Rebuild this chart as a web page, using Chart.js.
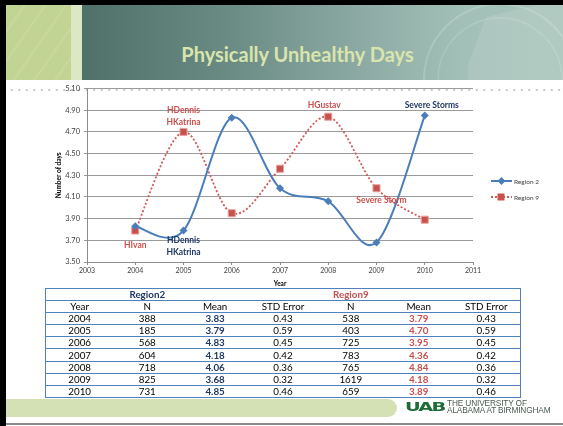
<!DOCTYPE html>
<html>
<head>
<meta charset="utf-8">
<script src="https://cdn.jsdelivr.net/npm/chart.js@4.4.0/dist/chart.umd.min.js"></script>
<style>
  html, body { margin: 0; padding: 0; }
  body { width: 563px; height: 426px; position: relative; overflow: hidden; background: #fff; font-family: Lato, "Liberation Sans", sans-serif; }
  .frame-top { position: absolute; left: 0; top: 0; width: 563px; height: 5px; background: #000; }
  .frame-left { position: absolute; left: 0; top: 0; width: 6px; height: 426px; background: #000; }
  .banner { position: absolute; left: 6px; top: 5px; width: 557px; height: 75px; overflow: hidden;
    background: linear-gradient(to right, #4a6b64 0%, #4f716a 14%, #6a8b84 40%, #8eaca5 65%, #a3c0b8 82%, #a8c5bc 100%); }
  .banner .leaf { position: absolute; left: 0; top: 0; width: 65px; height: 75px; background: #c2d494;
    background-image: repeating-linear-gradient(125deg, rgba(255,255,255,0) 0px, rgba(255,255,255,0) 14px, rgba(255,255,255,0.12) 15px, rgba(255,255,255,0) 17px); }
  .banner .stripe { position: absolute; left: 65px; top: 0; width: 11px; height: 75px; background: #dce8c3; }
  .banner svg { position: absolute; left: 0; top: 0; }
  .title { position: absolute; left: 0; top: 44px; width: 595px; text-align: center; font: bold 20px Lato, sans-serif;
    line-height: 20px; color: #dae5ad; white-space: nowrap; }
  .dots { position: absolute; left: 8px; top: 88px; width: 555px; height: 4px;
    background-image: radial-gradient(circle, #c6c6c6 1.1px, rgba(255,255,255,0) 1.4px); background-size: 7.5px 4px; }
  #chart { position: absolute; left: 0; top: 80px; }
  .tbl { position: absolute; left: 45px; top: 288px; width: 476px; }
  table { border-collapse: collapse; width: 476px; table-layout: fixed; font: 9.8px Lato, sans-serif; color: #000; }
  td { border-top: 1px solid #4F81BD; border-bottom: 1px solid #4F81BD; height: 11.1px; padding: 0; text-align: center; line-height: 11px; }
  tr td:first-child { border-left: 1px solid #4F81BD; }
  tr td:last-child { border-right: 1px solid #4F81BD; }
  .r2 { color: #1F3864; font-weight: bold; }
  .r9 { color: #C9504D; font-weight: bold; }
  .band { position: absolute; left: 6px; top: 399px; width: 391px; height: 18px; background: #d4e1b5; border-radius: 0 9px 9px 0; }
  .logo { position: absolute; left: 405px; top: 399px; font: bold 12.5px "DejaVu Sans", sans-serif; color: #1d6b37;
    transform: scaleX(1.55); transform-origin: left top; letter-spacing: -1.2px; line-height: 16px; }
  .uni { position: absolute; left: 447px; top: 400px; font: 8.3px "Liberation Sans", sans-serif; color: #4a5a50; line-height: 7px; letter-spacing: -0.15px; }
  .rule { position: absolute; left: 6px; top: 423px; width: 557px; height: 1.5px; background: #8a8a8a; }
</style>
</head>
<body>
<div class="banner">
  <div class="leaf"></div>
  <div class="stripe"></div>
  <svg width="557" height="75">
    <circle cx="494" cy="75" r="76" fill="none" stroke="rgba(255,255,255,0.18)" stroke-width="2"/>
    <circle cx="494" cy="75" r="62" fill="none" stroke="rgba(255,255,255,0.14)" stroke-width="1.5"/>
    <polygon points="462,60 480,12 530,0 557,0 557,75 462,75" fill="rgba(255,255,255,0.10)"/>
  </svg>
</div>
<div class="frame-top"></div>
<div class="frame-left"></div>
<div class="title">Physically Unhealthy Days</div>
<div class="dots"></div>
<canvas id="chart" width="563" height="210"></canvas>
<div class="tbl"><table id="stats"></table></div>
<div class="band"></div>
<div class="logo">UAB</div>
<div class="uni">THE UNIVERSITY OF<br>ALABAMA AT BIRMINGHAM</div>
<div class="rule"></div>

<script>
// data
const years = [2004, 2005, 2006, 2007, 2008, 2009, 2010];
const region2N = [388, 185, 568, 604, 718, 825, 731];
const region2Mean = [3.83, 3.79, 4.83, 4.18, 4.06, 3.68, 4.85];
const region2Se = [0.43, 0.59, 0.45, 0.42, 0.36, 0.32, 0.46];
const region9N = [538, 403, 725, 783, 765, 1619, 659];
const region9Mean = [3.79, 4.70, 3.95, 4.36, 4.84, 4.18, 3.89];
const region9Se = [0.43, 0.59, 0.45, 0.42, 0.36, 0.32, 0.46];
const seriesNames = ["Region 2", "Region 9"];
const yMin = 3.5, yMax = 5.1, yStep = 0.2;
const xMin = 2003, xMax = 2011;

// storm notes: series index, year index, text lines
const notes = [
    { ds: 1, i: 0, text: ["HIvan"], dx: 0, dy: 15 },
    { ds: 1, i: 1, text: ["HDennis", "HKatrina"], dx: 0, dy: -22 },
    { ds: 0, i: 1, text: ["HDennis", "HKatrina"], dx: 0, dy: 10 },
    { ds: 1, i: 4, text: ["HGustav"], dx: -4, dy: -11 },
    { ds: 0, i: 6, text: ["Severe Storms"], dx: 7, dy: -10 },
    { ds: 1, i: 5, text: ["Severe Storm"], dx: 5, dy: 12 },
];
const noteColors = ["#1F3864", "#CB4F4C"];

const blue = "#4A7EBB";
const red = "#D25A57";

// excel style smoothing (catmull-rom)
const excelSmooth = {
    id: "excelSmooth",
    beforeDatasetDraw(chart, args) {
        const meta = args.meta;
        const pts = meta.data;
        meta.dataset.updateControlPoints(chart.chartArea, meta.iScale.axis);
        for (let i = 0; i < pts.length; i++) {
            const prev = pts[Math.max(i - 1, 0)];
            const next = pts[Math.min(i + 1, pts.length - 1)];
            const dx = (next.x - prev.x) / 6;
            const dy = (next.y - prev.y) / 6;
            pts[i].cp1x = pts[i].x - dx;
            pts[i].cp1y = pts[i].y - dy;
            pts[i].cp2x = pts[i].x + dx;
            pts[i].cp2y = pts[i].y + dy;
        }
    }
};

const annotate = {
    id: "annotate",
    afterDatasetsDraw(chart) {
        const ctx = chart.ctx;
        ctx.save();
        ctx.font = "bold 8.5px Lato";
        ctx.textAlign = "center";
        ctx.textBaseline = "middle";
        notes.forEach((n) => {
            const p = chart.getDatasetMeta(n.ds).data[n.i];
            ctx.fillStyle = noteColors[n.ds];
            n.text.forEach((t, k) => ctx.fillText(t, p.x + n.dx, p.y + n.dy + k * 12));
        });

        // legend
        ctx.font = "6.5px Lato";
        ctx.textAlign = "left";
        const ly = [101, 117];
        ly.forEach((y, k) => {
            ctx.lineWidth = k ? 1.8 : 2;
            ctx.strokeStyle = k ? red : blue;
            ctx.setLineDash(k ? [2, 2] : []);
            ctx.beginPath();
            ctx.moveTo(491, y);
            ctx.lineTo(512, y);
            ctx.stroke();
            ctx.setLineDash([]);
            if (k) {
                ctx.fillStyle = "#C8504D";
                ctx.fillRect(497.5, y - 3.5, 7, 7);
            } else {
                ctx.fillStyle = blue;
                ctx.beginPath();
                ctx.moveTo(501.5, y - 4);
                ctx.lineTo(505.5, y);
                ctx.lineTo(501.5, y + 4);
                ctx.lineTo(497.5, y);
                ctx.closePath();
                ctx.fill();
            }
            ctx.fillStyle = "#404040";
            ctx.fillText(seriesNames[k], 514, y + 0.5);
        });
        ctx.restore();
    }
};

new Chart(document.getElementById("chart"), {
    type: "line",
    data: {
        datasets: [
            {
                label: seriesNames[0],
                data: years.map((yr, i) => ({ x: yr, y: region2Mean[i] })),
                borderColor: blue,
                backgroundColor: blue,
                borderWidth: 2,
                pointStyle: "rectRot",
                pointRadius: 4,
                pointBorderWidth: 0,
                tension: 0.4,
            },
            {
                label: seriesNames[1],
                data: years.map((yr, i) => ({ x: yr, y: region9Mean[i] })),
                borderColor: red,
                borderWidth: 1.8,
                borderDash: [2, 2],
                pointStyle: "rect",
                pointRadius: 5,
                pointBackgroundColor: "#C8504D",
                pointBorderColor: "#E7A3A1",
                pointBorderWidth: 1,
                tension: 0.4,
            },
        ],
    },
    options: {
        responsive: false,
        animation: false,
        layout: { padding: { left: 50, top: 5, right: 90, bottom: 0 } },
        plugins: {
            legend: { display: false },
            tooltip: { enabled: false },
        },
        scales: {
            x: {
                type: "linear",
                min: xMin,
                max: xMax,
                ticks: {
                    stepSize: 1,
                    callback: (v) => String(v),
                    font: { family: "Lato", size: 7 },
                    color: "#404040",
                    padding: 2,
                    maxRotation: 0,
                },
                grid: { drawOnChartArea: false, tickLength: 3, color: "#8c8c8c" },
                border: { color: "#8c8c8c" },
                title: {
                    display: true,
                    text: "Year",
                    font: { family: "Lato", size: 6.5, weight: "bold" },
                    color: "#000",
                    padding: { top: 0, bottom: 2 },
                },
                afterFit: (s) => { s.height = 28; },
            },
            y: {
                min: yMin,
                max: yMax,
                ticks: {
                    stepSize: yStep,
                    callback: (v) => v.toFixed(2),
                    font: { family: "Lato", size: 7.5 },
                    color: "#404040",
                    padding: 4,
                },
                grid: { color: "#9a9a9a", tickLength: 3 },
                border: { color: "#8c8c8c" },
                title: {
                    display: true,
                    text: "Number of days",
                    font: { family: "Lato", size: 6.5, weight: "bold" },
                    color: "#000",
                    padding: { top: 5, bottom: 0 },
                },
                afterFit: (s) => { s.width = 37; },
            },
        },
    },
    plugins: [excelSmooth, annotate],
});

// table
const table = document.getElementById("stats");
const addRow = (cells) => {
    const tr = document.createElement("tr");
    cells.forEach((c) => {
        const td = document.createElement("td");
        td.innerHTML = c;
        tr.appendChild(td);
    });
    table.appendChild(tr);
};
addRow(["", '<span class="r2">Region2</span>', "", "", '<span class="r9">Region9</span>', "", ""]);
addRow(["Year", "N", "Mean", "STD Error", "N", "Mean", "STD Error"]);
years.forEach((yr, i) => {
    addRow([
        yr,
        region2N[i],
        `<span class="r2">${region2Mean[i].toFixed(2)}</span>`,
        region2Se[i].toFixed(2),
        region9N[i],
        `<span class="r9">${region9Mean[i].toFixed(2)}</span>`,
        region9Se[i].toFixed(2),
    ]);
});
</script>
</body>
</html>
